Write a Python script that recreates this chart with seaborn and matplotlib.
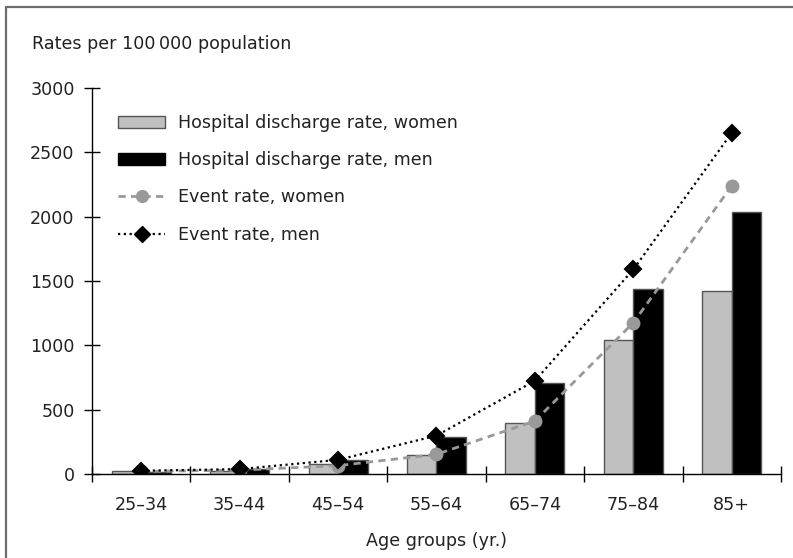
import numpy as np
import pandas as pd
import matplotlib
matplotlib.use("Agg")
import matplotlib.pyplot as plt
from matplotlib.patches import Patch
from matplotlib.lines import Line2D
import seaborn as sns

# ---------- data ----------
age_groups = ["25\u201334", "35\u201344", "45\u201354", "55\u201364", "65\u201374", "75\u201384", "85+"]
discharge_women = [20, 25, 78, 148, 399, 1041, 1424]
discharge_men = [15, 35, 110, 290, 710, 1435, 2038]
event_women = [20, 30, 65, 153, 412, 1176, 2240]
event_men = [25, 38, 110, 298, 725, 1590, 2652]

series_labels = ["Hospital discharge rate, women", "Hospital discharge rate, men",
                 "Event rate, women", "Event rate, men"]

bars_df = pd.DataFrame({
    "age": age_groups * 2,
    "rate": discharge_women + discharge_men,
    "series": [series_labels[0]] * 7 + [series_labels[1]] * 7,
})
events_df = pd.DataFrame({
    "age": age_groups * 2,
    "rate": event_women + event_men,
    "series": [series_labels[2]] * 7 + [series_labels[3]] * 7,
})

# ---------- style ----------
sns.set_style("white")
plt.rcParams["font.family"] = ["DejaVu Sans"]
plt.rcParams["font.size"] = 12.6

c_women_bar = "#c0c0c0"
c_men_bar = "#000000"
c_women_line = "#999999"
c_men_line = "#000000"
dash_women = (0, (2.6, 1.9))
dash_men = (0, (1, 1.6))

fig = plt.figure(figsize=(7.93, 5.58), dpi=100)
W, H = 793, 558
ax = fig.add_axes([92 / W, 1 - 474 / H, (781 - 92) / W, (474 - 88) / H])

sns.barplot(data=bars_df, x="age", y="rate", hue="series", order=age_groups,
            palette=[c_women_bar, c_men_bar], width=0.6, edgecolor="#555555",
            linewidth=1, legend=False, ax=ax)

sns.pointplot(data=events_df, x="age", y="rate", hue="series", order=age_groups,
              palette=[c_women_line, c_men_line], markers=["o", "D"],
              linestyles=[dash_women, dash_men], errorbar=None,
              markersize=8.5, linewidth=2, legend=False, ax=ax)
# dotted line for men a bit thinner
ax.lines[-1].set_linewidth(1.6)
ax.lines[-1].set_markersize(8)

# ---------- axes ----------
ax.set_xlim(-0.5, 6.5)
ax.set_ylim(0, 3000)
ax.set_yticks(np.arange(0, 3001, 500))
ax.set_xticks(range(len(age_groups)))
ax.set_xticklabels(age_groups)
ax.set_xticks(np.arange(-0.5, 7, 1), minor=True)
ax.tick_params(axis="x", which="major", bottom=True, length=0, pad=16, labelcolor="#222222")
ax.tick_params(axis="x", which="minor", bottom=True, direction="inout", length=11,
               width=1, color="black")
ax.tick_params(axis="y", left=True, direction="inout", length=11, width=1, pad=7,
               color="black", labelcolor="#222222")
for s in ["top", "right"]:
    ax.spines[s].set_visible(False)
for s in ["left", "bottom"]:
    ax.spines[s].set_color("black")
    ax.spines[s].set_linewidth(1)
ax.set_xlabel("Age groups (yr.)", labelpad=13, color="#222222")
ax.set_ylabel("")

fig.text(32 / W, 1 - 44 / H, "Rates per 100\u2009000 population", va="center", ha="left",
         color="#222222")

# ---------- legend ----------
handles = [
    Patch(facecolor=c_women_bar, edgecolor="#555555", linewidth=1),
    Patch(facecolor=c_men_bar, edgecolor=c_men_bar),
    Line2D([], [], color=c_women_line, linestyle=dash_women, linewidth=2,
           marker="o", markersize=8.5),
    Line2D([], [], color=c_men_line, linestyle=dash_men, linewidth=1.6,
           marker="D", markersize=8),
]
leg = ax.legend(handles, series_labels, loc="upper left",
                bbox_to_anchor=((118 - 92) / (781 - 92), (474 - 114) / (474 - 88)),
                frameon=False, borderpad=0, borderaxespad=0, handlelength=2.7,
                handleheight=0.7, handletextpad=0.75, labelspacing=1.1)
for t in leg.get_texts():
    t.set_color("#222222")

# ---------- outer frame ----------
fig.add_artist(Line2D([6 / W, 6 / W], [0, 1 - 7 / H], color="#6e6e6e", linewidth=1.6,
                      transform=fig.transFigure))
fig.add_artist(Line2D([6 / W, 1], [1 - 7 / H, 1 - 7 / H], color="#6e6e6e", linewidth=1.6,
                      transform=fig.transFigure))

fig.savefig("out.png", dpi=100)
plt.close(fig)
